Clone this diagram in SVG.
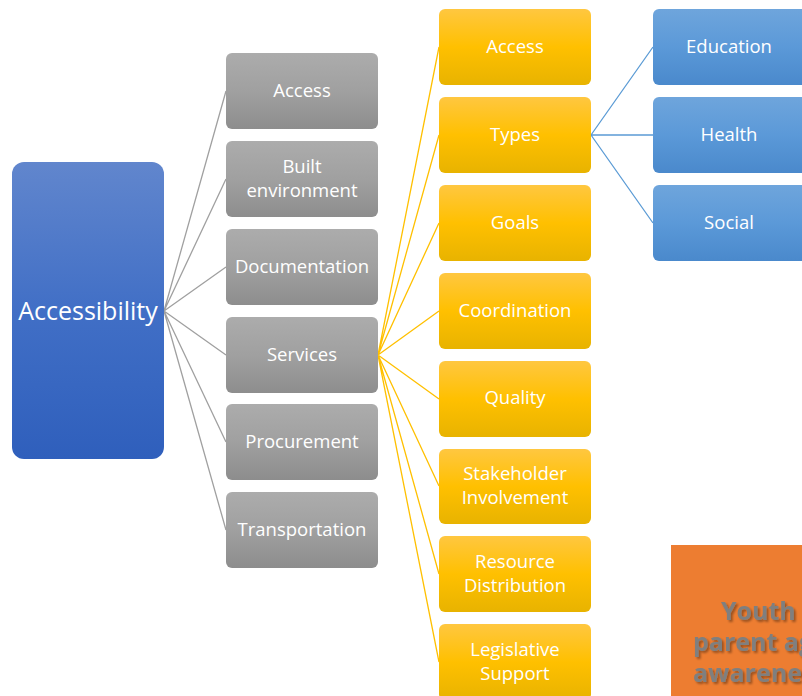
<svg xmlns="http://www.w3.org/2000/svg" width="802" height="696" viewBox="0 0 802 696">
<defs>
<linearGradient id="gBlueBig" x1="0" y1="0" x2="0" y2="1">
<stop offset="0" stop-color="#6186cd"/><stop offset="0.5" stop-color="#416fc6"/><stop offset="1" stop-color="#2f5fbc"/>
</linearGradient>
<linearGradient id="gGray" x1="0" y1="0" x2="0" y2="1">
<stop offset="0" stop-color="#acacac"/><stop offset="0.5" stop-color="#a0a0a0"/><stop offset="1" stop-color="#8d8d8d"/>
</linearGradient>
<linearGradient id="gYellow" x1="0" y1="0" x2="0" y2="1">
<stop offset="0" stop-color="#ffc740"/><stop offset="0.5" stop-color="#ffc000"/><stop offset="1" stop-color="#e8b300"/>
</linearGradient>
<linearGradient id="gBlue" x1="0" y1="0" x2="0" y2="1">
<stop offset="0" stop-color="#6ea5dc"/><stop offset="0.5" stop-color="#5b99d8"/><stop offset="1" stop-color="#4a89cc"/>
</linearGradient>
<filter id="shadow" x="-10%" y="-10%" width="130%" height="140%">
<feGaussianBlur in="SourceAlpha" stdDeviation="1.2"/><feOffset dx="2" dy="2" result="b"/>
<feFlood flood-color="#000" flood-opacity="0.35"/><feComposite in2="b" operator="in"/>
<feMerge><feMergeNode/><feMergeNode in="SourceGraphic"/></feMerge>
</filter>
</defs>
<style>
.t{font-family:"Open Sans","Noto Sans",sans-serif;fill:#fff;text-anchor:middle;font-size:18.5px}
.gray{fill:url(#gGray)}
.yel{fill:url(#gYellow)}
.blu{fill:url(#gBlue)}
.cg{stroke:#a0a0a0;stroke-width:1.3;fill:none}
.cy{stroke:#ffc000;stroke-width:1.3;fill:none}
.cb{stroke:#5b9bd5;stroke-width:1.3;fill:none}
.o{font-family:"Open Sans","Noto Sans",sans-serif;font-weight:bold;font-size:25px;fill:#7f7f7f}
</style>
<rect width="802" height="696" fill="#fff"/>
<g id="connectors">
<path class="cg" d="M164 311L226 91M164 311L226 179M164 311L226 267M164 311L226 355M164 311L226 442M164 311L226 530"/>
<path class="cy" d="M378 355L439 47M378 355L439 135M378 355L439 223M378 355L439 311M378 355L439 399M378 355L439 486M378 355L439 574M378 355L439 662"/>
<path class="cb" d="M591 135L653 47M591 135L653 135M591 135L653 223"/>
</g>
<g id="n-accessibility"><rect x="12" y="162" width="152" height="297" rx="12" fill="url(#gBlueBig)"/><text class="t" x="88" y="320" style="font-size:25px">Accessibility</text></g>
<g id="n-access1"><rect class="gray" x="226" y="53" width="152" height="76" rx="6"/><text class="t" x="302" y="97">Access</text></g>
<g id="n-built"><rect class="gray" x="226" y="141" width="152" height="76" rx="6"/><text class="t" x="302" y="173">Built</text><text class="t" x="302" y="197">environment</text></g>
<g id="n-documentation"><rect class="gray" x="226" y="229" width="152" height="76" rx="6"/><text class="t" x="302" y="273">Documentation</text></g>
<g id="n-services"><rect class="gray" x="226" y="317" width="152" height="76" rx="6"/><text class="t" x="302" y="361">Services</text></g>
<g id="n-procurement"><rect class="gray" x="226" y="404" width="152" height="76" rx="6"/><text class="t" x="302" y="448">Procurement</text></g>
<g id="n-transportation"><rect class="gray" x="226" y="492" width="152" height="76" rx="6"/><text class="t" x="302" y="536">Transportation</text></g>
<g id="n-access2"><rect class="yel" x="439" y="9" width="152" height="76" rx="6"/><text class="t" x="515" y="53">Access</text></g>
<g id="n-types"><rect class="yel" x="439" y="97" width="152" height="76" rx="6"/><text class="t" x="515" y="141">Types</text></g>
<g id="n-goals"><rect class="yel" x="439" y="185" width="152" height="76" rx="6"/><text class="t" x="515" y="229">Goals</text></g>
<g id="n-coordination"><rect class="yel" x="439" y="273" width="152" height="76" rx="6"/><text class="t" x="515" y="317">Coordination</text></g>
<g id="n-quality"><rect class="yel" x="439" y="361" width="152" height="76" rx="6"/><text class="t" x="515" y="404">Quality</text></g>
<g id="n-stakeholder"><rect class="yel" x="439" y="449" width="152" height="75" rx="6"/><text class="t" x="515" y="480">Stakeholder</text><text class="t" x="515" y="504">Involvement</text></g>
<g id="n-resource"><rect class="yel" x="439" y="536" width="152" height="76" rx="6"/><text class="t" x="515" y="568">Resource</text><text class="t" x="515" y="592">Distribution</text></g>
<g id="n-legislative"><rect class="yel" x="439" y="624" width="152" height="76" rx="6"/><text class="t" x="515" y="656">Legislative</text><text class="t" x="515" y="680">Support</text></g>
<g id="n-education"><rect class="blu" x="653" y="9" width="160" height="76" rx="6"/><text class="t" x="729" y="53">Education</text></g>
<g id="n-health"><rect class="blu" x="653" y="97" width="160" height="76" rx="6"/><text class="t" x="729" y="141">Health</text></g>
<g id="n-social"><rect class="blu" x="653" y="185" width="160" height="76" rx="6"/><text class="t" x="729" y="229">Social</text></g>
<g id="n-youth"><rect x="671" y="545" width="160" height="160" fill="#ed7d31"/>
<g filter="url(#shadow)"><text class="o" x="721" y="620">Youth and</text><text class="o" x="693" y="651">parent agency</text><text class="o" x="693" y="682">awareness</text></g></g>
</svg>
